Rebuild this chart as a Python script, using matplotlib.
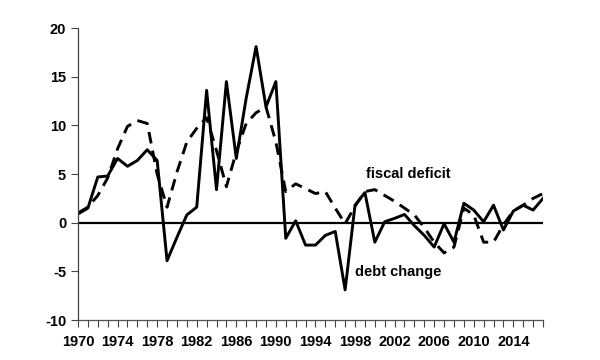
import numpy as np
import matplotlib
matplotlib.use("Agg")
import matplotlib.pyplot as plt

plt.rcParams["font.family"] = ["Liberation Sans", "DejaVu Sans"]
plt.rcParams["font.weight"] = "bold"
plt.rcParams["axes.unicode_minus"] = False

years = list(range(1970, 2018))
debt_change = [0.9, 1.5, 4.7, 4.8, 6.6, 5.8, 6.4, 7.5, 6.4, -3.9,
               -1.5, 0.8, 1.6, 13.6, 3.4, 14.5, 6.6, 12.8, 18.1, 11.9,
               14.5, -1.6, 0.2, -2.3, -2.3, -1.3, -0.9, -6.9, 1.8, 3.1,
               -2.0, 0.1, 0.45, 0.85, -0.3, -1.3, -2.5, -0.1, -2.0, 2.0,
               1.3, 0.1, 1.8, -0.75, 1.2, 1.8, 1.3, 2.5]
fiscal_deficit = [1.0, 1.6, 2.8, 4.6, 7.6, 9.9, 10.5, 10.2, 5.0, 1.6,
                  5.2, 8.3, 9.7, 10.8, 7.4, 3.7, 7.3, 10.2, 11.3, 11.9,
                  8.3, 3.2, 4.0, 3.5, 3.0, 3.2, 1.5, -0.1, 1.7, 3.2,
                  3.4, 2.8, 2.2, 1.5, 0.8, -0.5, -2.0, -3.1, -2.5, 1.5,
                  0.8, -2.0, -2.0, -0.2, 1.2, 1.8, 2.5, 3.0]
tick_years = list(range(1970, 2018, 4))

fig = plt.figure(figsize=(6, 3.6), dpi=100)
ax = fig.add_axes([0.13, 0.111, 0.775, 0.811])

ax.plot(years, fiscal_deficit, color="black", lw=2.1, linestyle=(0, (4, 2.5)))
ax.plot(years, debt_change, color="black", lw=2.1)
ax.axhline(0, color="black", lw=1.6)

ax.set_xlim(1970, 2017)
ax.set_ylim(-10, 20)
ax.set_yticks(range(-10, 21, 5))
ax.set_xticks(years, minor=True)
ax.set_xticks(tick_years)
ax.set_xticklabels([str(y) for y in tick_years])
ax.tick_params(axis="x", which="both", length=5, width=0.8, color="#444444", labelsize=10.5, pad=6)
ax.tick_params(axis="y", length=5, width=0.8, color="#444444", labelsize=10.5)

ax.spines["top"].set_visible(False)
ax.spines["right"].set_visible(False)
ax.spines["left"].set_color("#444444")
ax.spines["bottom"].set_color("#555555")
ax.spines["left"].set_linewidth(0.9)
ax.spines["bottom"].set_linewidth(0.9)

ax.text(1999.1, 5.0, "fiscal deficit", fontsize=10.5, fontweight="bold", va="center")
ax.text(1998.0, -5.1, "debt change", fontsize=10.5, fontweight="bold", va="center")

fig.savefig("out.png", dpi=100)
